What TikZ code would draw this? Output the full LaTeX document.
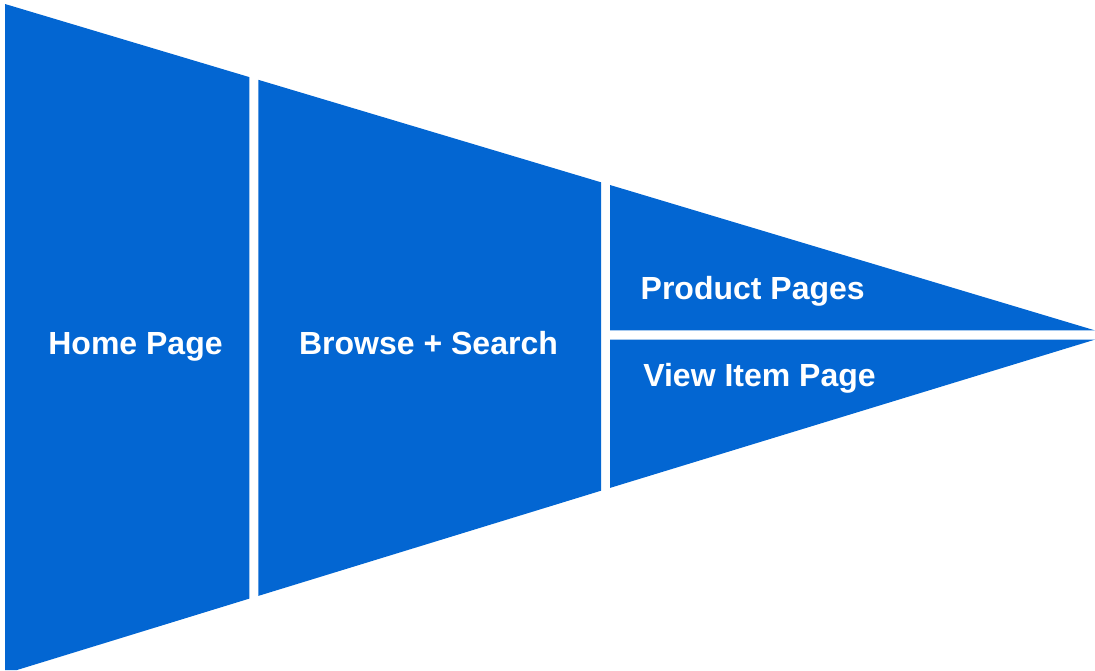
\documentclass[tikz,border=0pt]{standalone}
\usepackage{fontspec}
\setmainfont{Liberation Sans}
\definecolor{funnelblue}{RGB}{3,102,210}
\tikzset{
  seg/.style={fill=funnelblue, draw=none},
  lbl/.style={text=white, font=\bfseries\fontsize{32}{38}\selectfont, anchor=base, inner sep=0pt}
}
\begin{document}
\begin{tikzpicture}[x=1pt, y=-1pt]
\useasboundingbox (0,0) rectangle (1095,670);
% segment 1
\fill[seg] (5,4) -- (249.3,77.1) -- (249.3,598.6) -- (17,670) -- (5,670) -- cycle;
% segment 2
\fill[seg] (258.3,79.8) -- (601,182.3) -- (601,490.7) -- (258.3,595.9) -- cycle;
% segment 3 upper
\fill[seg] (610,185) -- (1095,330.4) -- (610,330.4) -- cycle;
% segment 3 lower
\fill[seg] (610,339.6) -- (1095,339.6) -- (610,487.9) -- cycle;
% labels
\node[lbl] (home) at (135.5,354) {Home Page};
\node[lbl] (browse) at (428.5,354) {Browse + Search};
\node[lbl] (product) at (752.7,299) {Product Pages};
\node[lbl] (view) at (759.5,386) {View Item Page};
\end{tikzpicture}
\end{document}
